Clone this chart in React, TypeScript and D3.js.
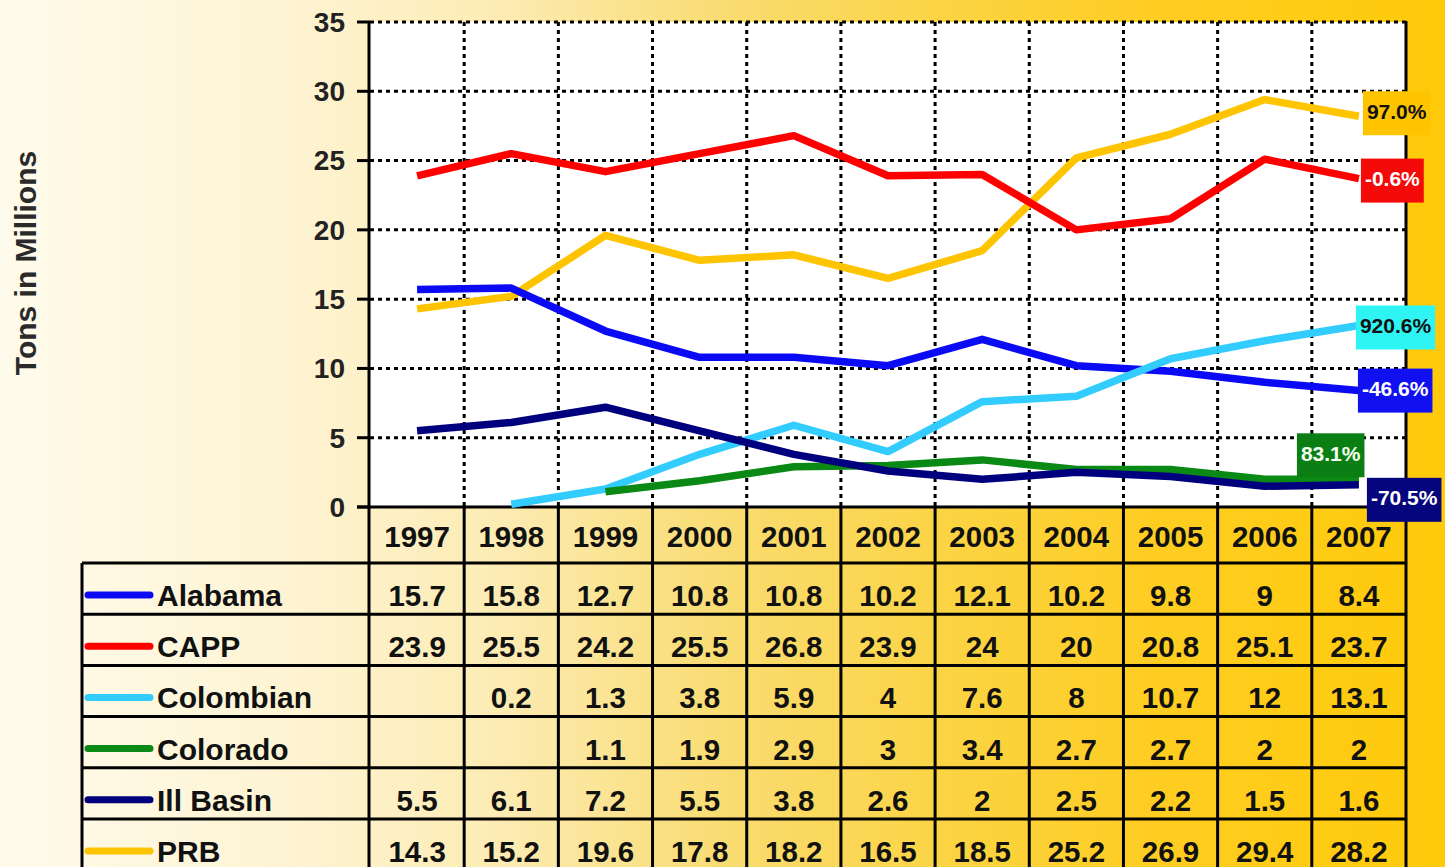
import React, { useEffect, useRef } from 'react';
import * as d3 from 'd3';

const years = ['1997', '1998', '1999', '2000', '2001', '2002', '2003', '2004', '2005', '2006', '2007'];
const seriesNames = ['Alabama', 'CAPP', 'Colombian', 'Colorado', 'Ill Basin', 'PRB'];
const alabama = [15.7, 15.8, 12.7, 10.8, 10.8, 10.2, 12.1, 10.2, 9.8, 9, 8.4];
const capp = [23.9, 25.5, 24.2, 25.5, 26.8, 23.9, 24, 20, 20.8, 25.1, 23.7];
const colombian = [null, 0.2, 1.3, 3.8, 5.9, 4, 7.6, 8, 10.7, 12, 13.1];
const colorado = [null, null, 1.1, 1.9, 2.9, 3, 3.4, 2.7, 2.7, 2, 2];
const illBasin = [5.5, 6.1, 7.2, 5.5, 3.8, 2.6, 2, 2.5, 2.2, 1.5, 1.6];
const prb = [14.3, 15.2, 19.6, 17.8, 18.2, 16.5, 18.5, 25.2, 26.9, 29.4, 28.2];
const changeLabels = ['-46.6%', '-0.6%', '920.6%', '83.1%', '-70.5%', '97.0%'];
const yTicks = [0, 5, 10, 15, 20, 25, 30, 35];

const allSeries: (number | null)[][] = [alabama, capp, colombian, colorado, illBasin, prb];

// styles
const lineColors = ['#0A0AF5', '#FF0000', '#33CCFF', '#0A8A14', '#00007E', '#FFC400'];
const boxColors = ['#1010F0', '#F50A0A', '#2EF4F4', '#0B7F14', '#05057E', '#FFC400'];
const boxText = ['#ffffff', '#ffffff', '#111111', '#f4fff0', '#ffffff', '#111111'];
// label box layout: [dx from last point, dy of box center from value]
const boxLayout: [number, number][] = [[-1, 0], [2, 2], [-3, 2], [-62, -24], [8, 15], [4, -3]];
const drawOrder = [5, 1, 0, 2, 3, 4];

const W = 1445;
const H = 867;
const plotL = 370;
const plotR = 1406;
const plotT = 22;
const plotB = 507;
const tableL = 82;
const headerB = 563;
const rowH = 51.2;
const FONT = 'Liberation Sans, Arial, Helvetica, sans-serif';

export default function App() {
  const ref = useRef<SVGSVGElement | null>(null);

  useEffect(() => {
    document.body.style.margin = '0';
    document.body.style.overflow = 'hidden';
    const svg = d3.select(ref.current);
    svg.selectAll('*').remove();

    const defs = svg.append('defs');
    const grad = defs.append('linearGradient').attr('id', 'bg').attr('x1', 0).attr('x2', 1).attr('y1', 0).attr('y2', 0);
    [
      [0, '#FFFBEC'], [0.2, '#FEF4D3'], [0.35, '#FCEBB2'], [0.5, '#F9DC72'],
      [0.65, '#FBD445'], [0.8, '#FECD22'], [1, '#FFCA0A'],
    ].forEach(([o, c]) => grad.append('stop').attr('offset', o as number).attr('stop-color', c as string));

    svg.append('rect').attr('width', W).attr('height', H).attr('fill', 'url(#bg)');

    const x = d3.scaleBand<string>().domain(years).range([plotL, plotR]).padding(0);
    const bw = x.bandwidth();
    const cx = (i: number) => (x(years[i]) as number) + bw / 2;
    const y = d3.scaleLinear().domain([0, 35]).range([plotB, plotT]);

    // plot area
    svg.append('rect').attr('x', plotL).attr('y', plotT).attr('width', plotR - plotL).attr('height', plotB - plotT).attr('fill', '#ffffff');

    const g = svg.append('g');
    g.selectAll('line.hg').data(yTicks.filter(t => t > 0)).enter().append('line')
      .attr('x1', plotL).attr('x2', plotR).attr('y1', d => y(d)).attr('y2', d => y(d))
      .attr('stroke', '#000').attr('stroke-width', 3).attr('stroke-dasharray', '4 4');
    g.selectAll('line.vg').data(years.slice(1)).enter().append('line')
      .attr('x1', d => x(d) as number).attr('x2', d => x(d) as number).attr('y1', plotT).attr('y2', plotB)
      .attr('stroke', '#000').attr('stroke-width', 3).attr('stroke-dasharray', '4 4');

    // axes
    svg.append('line').attr('x1', plotL - 1).attr('x2', plotL - 1).attr('y1', plotT).attr('y2', plotB).attr('stroke', '#000').attr('stroke-width', 3);
    svg.append('line').attr('x1', plotR).attr('x2', plotR).attr('y1', plotT - 1).attr('y2', plotB).attr('stroke', '#000').attr('stroke-width', 3);
    svg.append('line').attr('x1', 357).attr('x2', plotR).attr('y1', plotB).attr('y2', plotB).attr('stroke', '#000').attr('stroke-width', 3);
    svg.selectAll('line.tk').data(yTicks).enter().append('line')
      .attr('x1', 357).attr('x2', plotL).attr('y1', d => y(d)).attr('y2', d => y(d))
      .attr('stroke', '#000').attr('stroke-width', 3);
    svg.selectAll('text.yt').data(yTicks).enter().append('text')
      .attr('x', 345).attr('y', d => y(d)).attr('dy', '0.35em').attr('text-anchor', 'end')
      .attr('font-family', FONT).attr('font-weight', 'bold').attr('font-size', 28).attr('fill', '#222')
      .text(d => String(d));

    svg.append('text').attr('transform', 'translate(36,263) rotate(-90)').attr('text-anchor', 'middle')
      .attr('font-family', FONT).attr('font-weight', 'bold').attr('font-size', 30).attr('fill', '#2a2a2a')
      .text('Tons in Millions');

    // lines
    const lineGen = d3.line<number | null>()
      .defined(d => d !== null)
      .x((_, i) => cx(i))
      .y(d => y(d as number));
    drawOrder.forEach(si => {
      svg.append('path').attr('d', lineGen(allSeries[si]) as string)
        .attr('fill', 'none').attr('stroke', lineColors[si]).attr('stroke-width', 7.5)
        .attr('stroke-linejoin', 'round');
    });

    // table
    const tbl = svg.append('g');
    years.forEach((yr, i) => {
      tbl.append('text').attr('x', cx(i)).attr('y', plotB + 40).attr('text-anchor', 'middle')
        .attr('font-family', FONT).attr('font-weight', 'bold').attr('font-size', 29.5).attr('fill', '#111')
        .text(yr);
    });
    seriesNames.forEach((name, r) => {
      const top = headerB + r * rowH;
      tbl.append('line').attr('x1', 88).attr('x2', 150).attr('y1', top + 32).attr('y2', top + 32)
        .attr('stroke', lineColors[r]).attr('stroke-width', 7).attr('stroke-linecap', 'round');
      tbl.append('text').attr('x', 157).attr('y', top + 43)
        .attr('font-family', FONT).attr('font-weight', 'bold').attr('font-size', 30).attr('fill', '#111')
        .text(name);
      allSeries[r].forEach((v, i) => {
        if (v === null) return;
        tbl.append('text').attr('x', cx(i)).attr('y', top + 43).attr('text-anchor', 'middle')
          .attr('font-family', FONT).attr('font-weight', 'bold').attr('font-size', 29.5).attr('fill', '#111')
          .text(String(v));
      });
    });
    const bottom = headerB + seriesNames.length * rowH;
    d3.range(seriesNames.length + 1).forEach(r => {
      const yy = headerB + r * rowH;
      tbl.append('line').attr('x1', tableL).attr('x2', plotR + 1).attr('y1', yy).attr('y2', yy).attr('stroke', '#000').attr('stroke-width', 3);
    });
    tbl.append('line').attr('x1', tableL).attr('x2', tableL).attr('y1', headerB).attr('y2', bottom).attr('stroke', '#000').attr('stroke-width', 3);
    d3.range(years.length + 1).forEach(i => {
      const xx = i === 0 ? plotL - 1 : i === years.length ? plotR : (x(years[i]) as number);
      tbl.append('line').attr('x1', xx).attr('x2', xx).attr('y1', plotB).attr('y2', bottom).attr('stroke', '#000').attr('stroke-width', 3);
    });

    // change labels
    const last = years.length - 1;
    seriesNames.forEach((_, si) => {
      const v = allSeries[si][last] as number;
      const [dx, dy] = boxLayout[si];
      const lg = svg.append('g');
      const rect = lg.append('rect');
      const t = lg.append('text').attr('font-family', FONT).attr('font-weight', 'bold').attr('font-size', 21)
        .attr('fill', boxText[si]).attr('text-anchor', 'middle').attr('dy', '0.35em').text(changeLabels[si]);
      const tw = (t.node() as SVGTextElement).getComputedTextLength();
      const bwid = tw + 8;
      const bh = 44;
      const left = cx(last) + dx;
      const cy = y(v) + dy;
      rect.attr('x', left).attr('y', cy - bh / 2).attr('width', bwid).attr('height', bh).attr('fill', boxColors[si]);
      t.attr('x', left + bwid / 2).attr('y', cy - 2);
    });
  }, []);

  return <svg ref={ref} width={W} height={H} style={{ position: 'absolute', left: 0, top: 0, display: 'block' }} />;
}
